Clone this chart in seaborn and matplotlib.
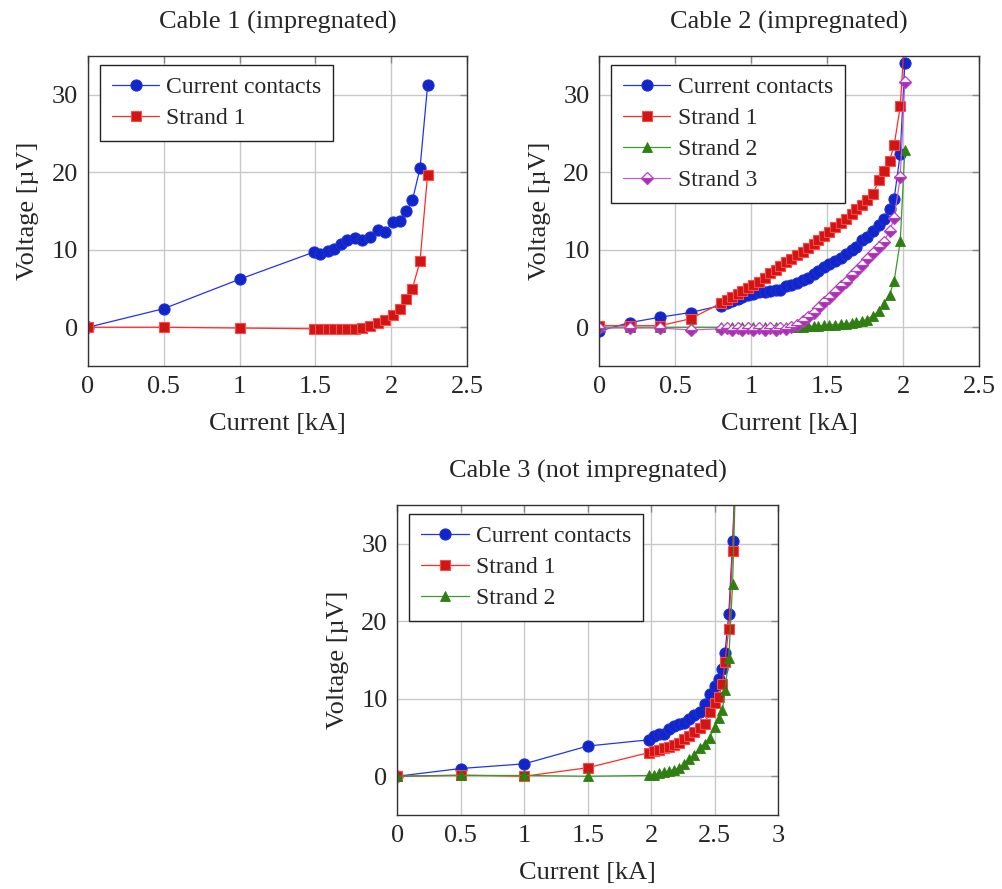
import matplotlib
matplotlib.use("Agg")
import matplotlib.pyplot as plt
import seaborn as sns

# ---------------- data ----------------
# Cable 1 (impregnated)
c1_current = [0, 0.5, 1.0, 1.49, 1.53, 1.58, 1.62, 1.67, 1.71, 1.76, 1.81, 1.86,
              1.91, 1.96, 2.01, 2.06, 2.10, 2.14, 2.19, 2.24]
c1_contacts = [0, 2.4, 6.2, 9.7, 9.5, 9.9, 10.1, 10.8, 11.3, 11.5, 11.3, 11.6,
               12.5, 12.3, 13.6, 13.7, 15.0, 16.4, 20.5, 31.2]
c1_strand1 = [0, 0, -0.1, -0.2, -0.2, -0.2, -0.2, -0.25, -0.2, -0.2, -0.1, 0.2,
              0.6, 0.9, 1.6, 2.4, 3.6, 5.0, 8.5, 19.7]

# Cable 2 (impregnated)
c2_current = [0, 0.2, 0.4, 0.6, 0.80, 0.84, 0.87, 0.91, 0.94, 0.98, 1.01, 1.05,
              1.09, 1.12, 1.16, 1.19, 1.23, 1.26, 1.30, 1.34, 1.37, 1.41, 1.44,
              1.48, 1.51, 1.55, 1.59, 1.62, 1.66, 1.69, 1.73, 1.76, 1.80, 1.84,
              1.87, 1.91, 1.94, 1.98, 2.01]
c2_contacts = [-0.5, 0.6, 1.3, 1.9, 2.8, 3.1, 3.4, 3.6, 3.85, 4.1, 4.3, 4.5,
               4.6, 4.7, 4.8, 4.8, 5.3, 5.5, 5.7, 6.1, 6.4, 6.9, 7.2,
               7.8, 8.1, 8.6, 9.0, 9.4, 10.0, 10.4, 11.2, 11.7, 12.4, 13.2,
               14.0, 15.3, 16.6, 22.4, 34.1]
c2_strand1 = [0.2, 0.2, 0.2, 1.1, 3.1, 3.5, 3.9, 4.3, 4.7, 5.1, 5.5, 5.9,
              6.4, 7.0, 7.4, 7.9, 8.4, 8.8, 9.3, 9.7, 10.2, 10.8, 11.3,
              11.8, 12.3, 12.9, 13.5, 14.0, 14.6, 15.2, 15.8, 16.4, 17.2, 19.0,
              20.1, 21.5, 23.5, 28.5, 38.0]
c2_strand2 = [0, 0, 0, 0, 0, 0, 0, 0, 0, 0, 0, 0,
              0, 0, 0, 0, 0, 0, 0, 0.05, 0.1, 0.15, 0.2,
              0.25, 0.3, 0.35, 0.4, 0.45, 0.55, 0.65, 0.8, 1.0, 1.5, 2.1,
              3.0, 4.2, 6.0, 11.1, 22.9]
c2_strand3 = [-0.1, -0.1, -0.1, -0.35, -0.2, -0.1, -0.3, -0.1, -0.3, -0.1, -0.3, -0.1,
              -0.3, -0.1, -0.3, -0.1, -0.2, 0.0, 0.3, 0.8, 1.3, 1.9, 2.5,
              3.2, 3.8, 4.6, 5.3, 5.9, 6.7, 7.3, 8.0, 8.8, 9.6, 10.3,
              11.0, 12.4, 14.1, 19.4, 31.7]

# Cable 3 (not impregnated)
c3_current = [0, 0.5, 1.0, 1.5, 1.98, 2.02, 2.06, 2.10, 2.14, 2.18, 2.22, 2.26,
              2.30, 2.34, 2.38, 2.42, 2.46, 2.50, 2.53, 2.56, 2.58, 2.61, 2.64, 2.67]
c3_contacts = [0, 1.0, 1.6, 3.9, 4.7, 5.2, 5.45, 5.5, 6.1, 6.5, 6.7, 6.9,
               7.4, 7.9, 8.3, 9.3, 10.6, 11.6, 12.5, 13.8, 15.9, 20.9, 30.3, 42.0]
c3_strand1 = [0, 0.15, 0, 1.1, 3.05, 3.2, 3.4, 3.6, 3.8, 4.0, 4.3, 4.8,
              5.2, 5.75, 6.2, 6.8, 8.3, 9.5, 10.2, 11.9, 14.8, 19.0, 29.1, 42.0]
c3_strand2 = [0, 0.1, 0.1, 0, 0.1, 0.15, 0.4, 0.5, 0.65, 0.85, 1.1, 1.6,
              2.2, 2.7, 3.7, 4.2, 5.0, 6.4, 7.5, 8.5, 11.1, 15.2, 24.8, 42.0]

titles = ["Cable 1 (impregnated)", "Cable 2 (impregnated)", "Cable 3 (not impregnated)"]
series_names = ["Current contacts", "Strand 1", "Strand 2", "Strand 3"]
xlabel_text = "Current [kA]"
ylabel_text = "Voltage [µV]"
yticks = [0, 10, 20, 30]
ytick_labels = ["0", "10", "20", "30"]
xticks_a = [0, 0.5, 1.0, 1.5, 2.0, 2.5]
xtick_labels_a = ["0", "0.5", "1", "1.5", "2", "2.5"]
xticks_b = [0, 0.5, 1.0, 1.5, 2.0, 2.5, 3.0]
xtick_labels_b = ["0", "0.5", "1", "1.5", "2", "2.5", "3"]

# ---------------- style ----------------
sns.set_theme(style="white")
plt.rcParams["font.family"] = ["Liberation Serif", "DejaVu Serif"]

FS = 19
LFS = 17

st_blue = dict(color="#2233ee", marker="o", markersize=8, markerfacecolor="#1226c8",
               markeredgecolor="#1a2ee0", markeredgewidth=0.8, linewidth=0.9)
st_red = dict(color="#ff2a2a", marker="s", markersize=7.5, markerfacecolor="#d01515",
              markeredgecolor="#ff4a4a", markeredgewidth=0.8, linewidth=0.9)
st_green = dict(color="#3a9a2a", marker="^", markersize=7.5, markerfacecolor="#2f7f12",
                markeredgecolor="#2f7f12", markeredgewidth=0.6, linewidth=0.9)
st_pink = dict(color="#c060c8", marker="D", markersize=5.8, fillstyle="bottom",
               markerfacecolor="#a52fae", markerfacecoloralt="white",
               markeredgecolor="#b540bd", markeredgewidth=0.9, linewidth=0.9)

fig = plt.figure(figsize=(10.02, 8.89), dpi=100)
ax1 = fig.add_axes([88 / 1002, 1 - 366 / 889, 379 / 1002, 310 / 889])
ax2 = fig.add_axes([599.3 / 1002, 1 - 366 / 889, 380 / 1002, 310 / 889])
ax3 = fig.add_axes([397.3 / 1002, 1 - 815 / 889, 381 / 1002, 310 / 889])


def draw(ax, x, y, label, st):
    sns.lineplot(x=x, y=y, ax=ax, label=label, sort=False, estimator=None, **st)


draw(ax1, c1_current, c1_contacts, series_names[0], st_blue)
draw(ax1, c1_current, c1_strand1, series_names[1], st_red)

draw(ax2, c2_current, c2_contacts, series_names[0], st_blue)
draw(ax2, c2_current, c2_strand1, series_names[1], st_red)
draw(ax2, c2_current, c2_strand2, series_names[2], st_green)
draw(ax2, c2_current, c2_strand3, series_names[3], st_pink)

draw(ax3, c3_current, c3_contacts, series_names[0], st_blue)
draw(ax3, c3_current, c3_strand1, series_names[1], st_red)
draw(ax3, c3_current, c3_strand2, series_names[2], st_green)

for ax, title, xt, xtl, xmax in [
    (ax1, titles[0], xticks_a, xtick_labels_a, 2.5),
    (ax2, titles[1], xticks_a, xtick_labels_a, 2.5),
    (ax3, titles[2], xticks_b, xtick_labels_b, 3.0),
]:
    ax.set_xlim(0, xmax)
    ax.set_ylim(-5, 35)
    ax.set_xticks(xt)
    ax.set_xticklabels(xtl)
    ax.set_yticks(yticks)
    ax.set_yticklabels(ytick_labels)
    ax.grid(True, color="#c8c8c8", linewidth=1.0)
    ax.set_axisbelow(True)
    ax.tick_params(direction="in", top=True, right=True, length=5, width=1,
                   color="#888888", labelsize=FS, pad=7)
    for sp in ax.spines.values():
        sp.set_color("#333333")
        sp.set_linewidth(1.0)
    ax.set_title(title, fontsize=FS, pad=20)
    ax.set_xlabel(xlabel_text, fontsize=FS, labelpad=11)
    ax.set_ylabel(ylabel_text, fontsize=FS, labelpad=9)
    leg = ax.legend(loc="upper left", bbox_to_anchor=(0.032, 0.972), borderaxespad=0,
                    fontsize=LFS, frameon=True, fancybox=False, framealpha=1,
                    edgecolor="#222222", handlelength=2.0, handletextpad=0.3,
                    labelspacing=0.4, borderpad=0.5)
    leg.get_frame().set_linewidth(1.0)

fig.savefig("out.png", dpi=100)
